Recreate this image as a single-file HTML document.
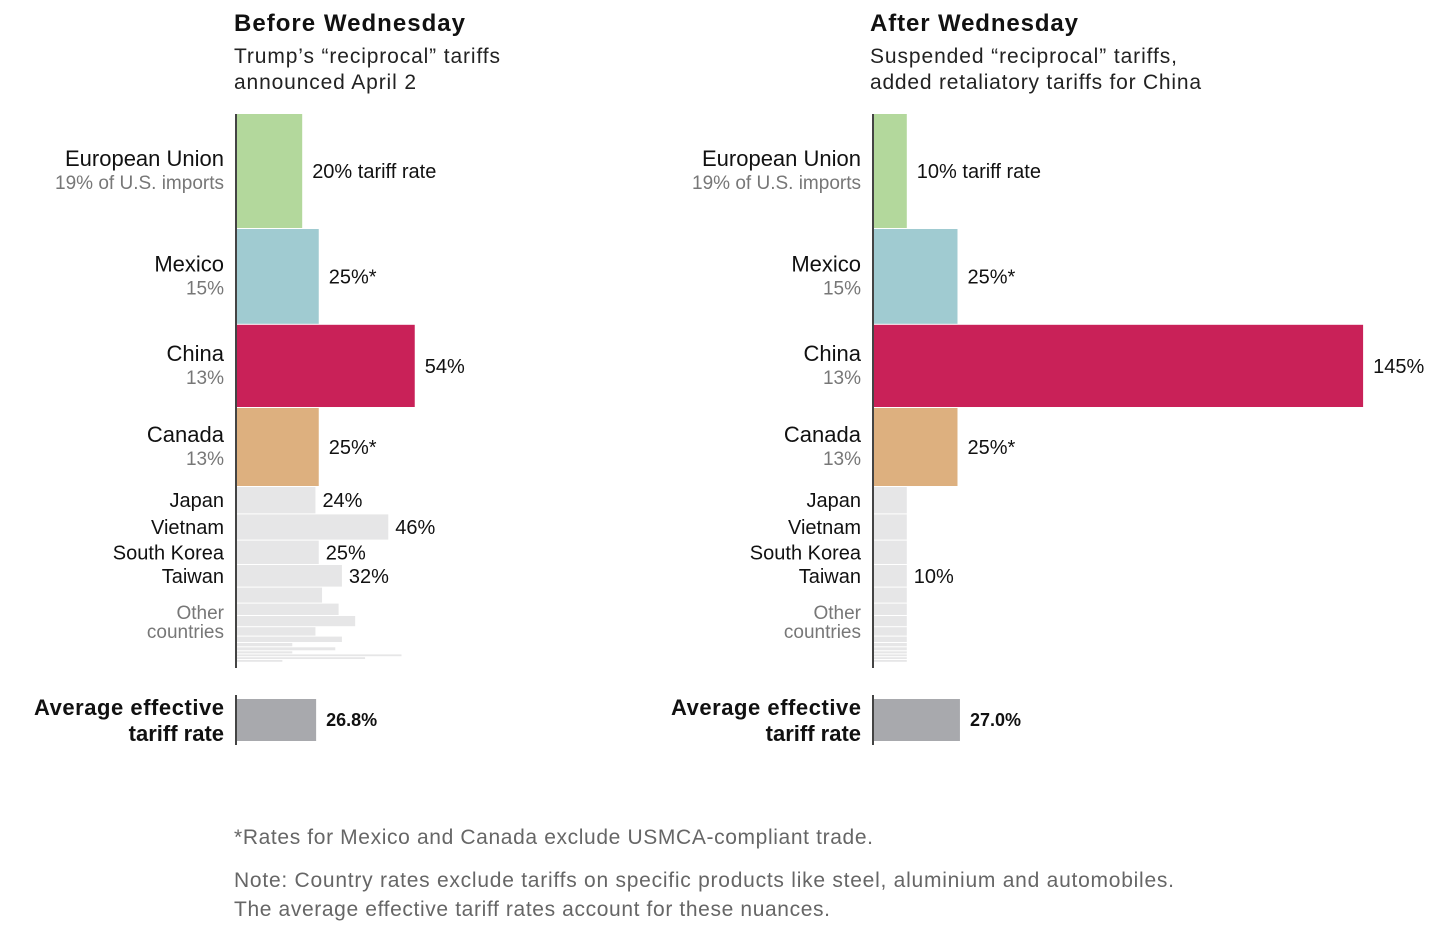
<!DOCTYPE html>
<html><head><meta charset="utf-8"><style>
body{margin:0;background:#fff;}
svg{display:block;font-family:"Liberation Sans",sans-serif;}
</style></head><body>
<svg id="chart" width="1433" height="944" viewBox="0 0 1433 944" xmlns="http://www.w3.org/2000/svg">
<g>
<text x="234" y="31" font-size="24" font-weight="bold" fill="#111" textLength="231">Before Wednesday</text>
<text x="234" y="63" font-size="21" fill="#222" textLength="266">Trump’s “reciprocal” tariffs</text>
<text x="234" y="89" font-size="21" fill="#222" textLength="182">announced April 2</text>
</g>
<g>
<text x="870" y="31" font-size="24" font-weight="bold" fill="#111" textLength="208">After Wednesday</text>
<text x="870" y="63" font-size="21" fill="#222" textLength="307">Suspended “reciprocal” tariffs,</text>
<text x="870" y="89" font-size="21" fill="#222" textLength="331">added retaliatory tariffs for China</text>
</g>
<g id="plots"></g>
<g fill="#666" font-size="21">
<text x="234" y="844" textLength="639">*Rates for Mexico and Canada exclude USMCA-compliant trade.</text>
<text x="234" y="887" textLength="940">Note: Country rates exclude tariffs on specific products like steel, aluminium and automobiles.</text>
<text x="234" y="916" textLength="596">The average effective tariff rates account for these nuances.</text>
</g>
</svg>
<script>
// Data
const countries = ["European Union","Mexico","China","Canada","Japan","Vietnam","South Korea","Taiwan","Other 1","Other 2","Other 3","Other 4","Other 5","Other 6","Other 7","Other 8","Other 9","Other 10","Other 11"];
const importShares = [19, 15.8, 13.7, 13, 4.4, 4.2, 3.9, 3.6, 2.5, 1.9, 1.7, 1.4, 0.9, 0.55, 0.5, 0.35, 0.3, 0.3, 0.3];
const shareLabels = ["19% of U.S. imports","15%","13%","13%"];
const ratesBefore = [20, 25, 54, 25, 24, 46, 25, 32, 26, 31, 36, 24, 32, 17, 30, 17, 50, 39, 14];
const ratesAfter = [10, 25, 145, 25, 10, 10, 10, 10, 10, 10, 10, 10, 10, 10, 10, 10, 10, 10, 10];
const labelsBefore = ["20% tariff rate","25%*","54%","25%*","24%","46%","25%","32%"];
const labelsAfter = ["10% tariff rate","25%*","145%","25%*","","","","10%"];
const avgBefore = 26.8;
const avgAfter = 27.0;

const colors = ["#b3d89c","#a0cbd1","#c92158","#ddb07f"];
const NS = "http://www.w3.org/2000/svg";
const plots = document.getElementById("plots");
function mk(tag, attrs, parent, txt){
  const e = document.createElementNS(NS, tag);
  for (const k in attrs) e.setAttribute(k, attrs[k]);
  if (txt !== undefined) e.textContent = txt;
  parent.appendChild(e);
  return e;
}
const top0 = 114, pxPerShare = 6, gap = 1;
function yPos(i){ let y = top0; for (let j=0;j<i;j++) y += importShares[j]*pxPerShare + gap; return y; }

function panel(x0, scale, avgScale, rates, labels, avg, side){
  const g = mk("g", {}, plots);
  
  
  const xs = v => x0 + v*scale;
  countries.forEach((c,i)=>{
    const y = yPos(i), h = importShares[i]*pxPerShare;
    const r = mk("rect", {x:x0, y:y, width:xs(rates[i])-x0, height:h, fill: i<4 ? colors[i] : "#e6e6e7"}, g);
    
    
    const cy = y + h/2;
    if (i < 4) {
      const n = mk("text", {x:x0-12, y:cy-5, "font-size":22, fill:"#111", "text-anchor":"end"}, g, c);
      
      
      const s = mk("text", {x:x0-12, y:cy+18, "font-size":19, fill:"#777", "text-anchor":"end"}, g, shareLabels[i]);
      
      
    } else if (i < 8) {
      const n = mk("text", {x:x0-12, y:cy+7, "font-size":20, fill:"#111", "text-anchor":"end"}, g, c);
      
      
    }
    if (labels[i]) {
      const v = mk("text", {x:xs(rates[i])+(i<4?10:7), y:cy+7, "font-size":20, fill:"#111"}, g, labels[i]);
      
      
    }
  });
  const o1 = mk("text", {x:x0-12, y:619, "font-size":19, fill:"#777", "text-anchor":"end"}, g, "Other");
  
  
  const o2 = mk("text", {x:x0-12, y:638, "font-size":19, fill:"#777", "text-anchor":"end"}, g, "countries");
  
  
  const ax = mk("line", {x1:x0, x2:x0, y1:114, y2:668, stroke:"#444", "stroke-width":2}, g);
  
  
  // average
  const ab = mk("rect", {x:x0, y:699, width:avg*avgScale, height:42, fill:"#a8a9ad"}, g);
  
  
  const ax2 = mk("line", {x1:x0, x2:x0, y1:695, y2:745, stroke:"#444", "stroke-width":2}, g);
  
  
  const a1 = mk("text", {x:x0-12, y:715, "font-size":22, "font-weight":"bold", fill:"#111", "text-anchor":"end", textLength:190}, g, "Average effective");
  
  
  const a2 = mk("text", {x:x0-12, y:741, "font-size":22, "font-weight":"bold", fill:"#111", "text-anchor":"end"}, g, "tariff rate");
  
  
  const av = mk("text", {x:x0+avg*avgScale+10, y:726, "font-size":18, "font-weight":"bold", fill:"#111"}, g, avg.toFixed(1) + "%");
  
  
}
panel(236, 3.31, 2.99, ratesBefore, labelsBefore, avgBefore, "before");
panel(873, 3.38, 3.22, ratesAfter, labelsAfter, avgAfter, "after");
</script>
</body></html>
